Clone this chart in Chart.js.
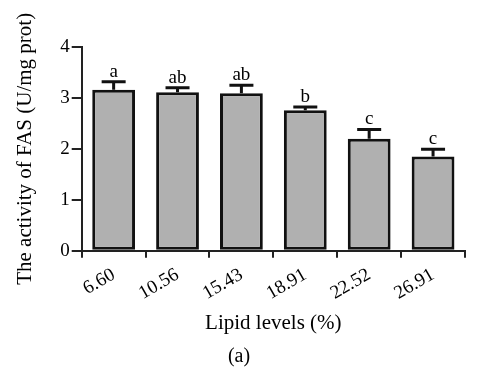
<!DOCTYPE html>
<html>
<head>
<meta charset="utf-8">
<script src="https://cdn.jsdelivr.net/npm/chart.js@4"></script>
<style>
  html, body { margin: 0; padding: 0; background: #fff; }
  #wrap { width: 480px; height: 367px; }
</style>
</head>
<body>
<div id="wrap"><canvas id="chartFAS"></canvas></div>
<script>
// values
const lipidLevels = ['6.60', '10.56', '15.43', '18.91', '22.52', '26.91'];
const fasActivity = [3.16, 3.11, 3.09, 2.76, 2.20, 1.85];
const fasError = [0.16, 0.09, 0.16, 0.06, 0.18, 0.14];
const sigLetters = ['a', 'ab', 'ab', 'b', 'c', 'c'];

const serif = '"Liberation Serif", "Times New Roman", serif';

// draws the error bars and the letters over each bar
const errorBars = {
  id: 'errorBars',
  afterDatasetsDraw(chart) {
    const ctx = chart.ctx;
    const meta = chart.getDatasetMeta(0);
    const yScale = chart.scales.y;
    ctx.save();
    ctx.strokeStyle = '#111';
    ctx.lineWidth = 3;
    ctx.fillStyle = '#000';
    ctx.font = '19px ' + serif;
    ctx.textAlign = 'center';
    ctx.textBaseline = 'alphabetic';
    meta.data.forEach((bar, i) => {
      const yTop = yScale.getPixelForValue(fasActivity[i] + fasError[i]);
      ctx.beginPath();
      ctx.moveTo(bar.x, bar.y);
      ctx.lineTo(bar.x, yTop);
      ctx.moveTo(bar.x - 12, yTop);
      ctx.lineTo(bar.x + 12, yTop);
      ctx.stroke();
      ctx.fillText(sigLetters[i], bar.x, yTop - 5);
    });
    ctx.restore();
  }
};

new Chart(document.getElementById('chartFAS'), {
  type: 'bar',
  data: {
    labels: lipidLevels,
    datasets: [{
      data: fasActivity,
      backgroundColor: '#b0b0b0',
      borderColor: '#111',
      borderWidth: 3,
      borderSkipped: false,
      barPercentage: 0.67,
      categoryPercentage: 1.0
    }]
  },
  options: {
    responsive: true,
    maintainAspectRatio: false,
    animation: false,
    layout: { padding: { left: 13, right: 15, top: 47, bottom: 0 } },
    plugins: {
      legend: { display: false },
      tooltip: { enabled: false },
      title: {
        display: true,
        position: 'bottom',
        text: '(a)',
        color: '#000',
        font: { family: serif, size: 20, weight: 'normal', lineHeight: 1 },
        padding: { top: 11, bottom: 0 }
      }
    },
    scales: {
      x: {
        border: { color: '#222', width: 2 },
        grid: { display: true, drawOnChartArea: false, tickLength: 7, color: '#222', lineWidth: 2 },
        ticks: {
          color: '#000',
          maxRotation: 30,
          minRotation: 30,
          padding: 6,
          font: { family: serif, size: 19 }
        },
        title: {
          display: true,
          text: 'Lipid levels (%)',
          color: '#000',
          font: { family: serif, size: 21 },
          padding: { top: 0, bottom: 0 }
        }
      },
      y: {
        min: 0,
        max: 4,
        border: { color: '#222', width: 2 },
        grid: { display: true, drawOnChartArea: false, tickLength: 10, color: '#222', lineWidth: 2 },
        ticks: {
          stepSize: 1,
          color: '#000',
          padding: 2,
          font: { family: serif, size: 19 }
        },
        title: {
          display: true,
          text: 'The activity of FAS (U/mg prot)',
          color: '#000',
          font: { family: serif, size: 21 },
          padding: { top: 0, bottom: 20 }
        }
      }
    }
  },
  plugins: [errorBars]
});
</script>
</body>
</html>
